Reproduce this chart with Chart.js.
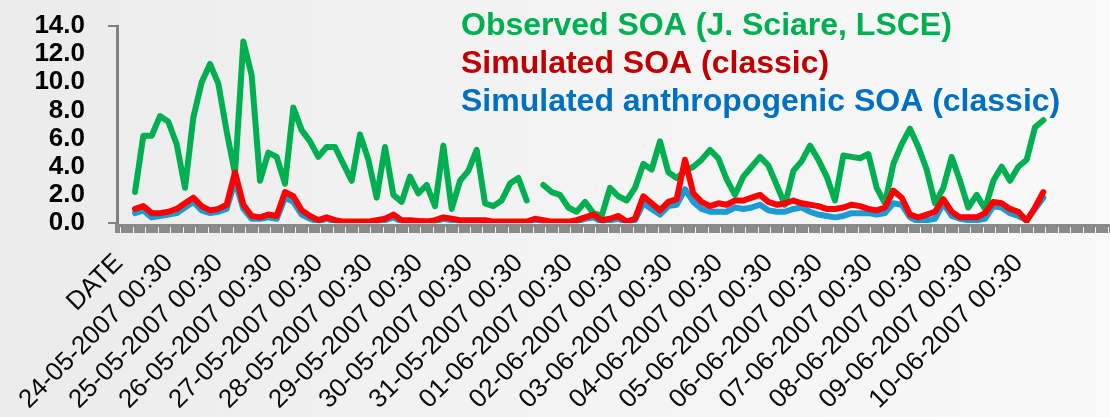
<!DOCTYPE html>
<html>
<head>
<meta charset="utf-8">
<script src="https://cdn.jsdelivr.net/npm/chart.js@4.4.1/dist/chart.umd.min.js"></script>
<style>
  html, body { margin: 0; padding: 0; }
  body {
    width: 1110px; height: 417px; overflow: hidden;
    background: linear-gradient(90deg, #ebebeb 0%, #f2f2f2 40%, #f6f6f6 75%, #f9f9f9 100%);
  }
  canvas { display: block; }
</style>
</head>
<body>
<canvas id="soaChart" width="1110" height="417"></canvas>
<script>
// x axis labels, one per day (DATE = 0, 24-05 = 1, ...)
const tickLabels = ['DATE', '24-05-2007 00:30', '25-05-2007 00:30', '26-05-2007 00:30', '27-05-2007 00:30',
    '28-05-2007 00:30', '29-05-2007 00:30', '30-05-2007 00:30', '31-05-2007 00:30', '01-06-2007 00:30',
    '02-06-2007 00:30', '03-06-2007 00:30', '04-06-2007 00:30', '05-06-2007 00:30', '06-06-2007 00:30',
    '07-06-2007 00:30', '08-06-2007 00:30', '09-06-2007 00:30', '10-06-2007 00:30'];

// series sampled every 4 hours, starting 0.3 day after the DATE tick
const startDay = 0.3;
const stepDay = 1 / 6;

const observed = [2.2, 6.2, 6.2, 7.6, 7.2, 5.6, 2.5, 7.5, 10.0, 11.3,
    9.9, 6.5, 3.5, 12.9, 10.5, 3.0, 5.0, 4.7, 2.8, 8.2,
    6.6, 5.8, 4.7, 5.4, 5.4, 4.2, 3.0, 6.3, 4.5, 1.8,
    5.4, 2.0, 1.5, 3.3, 2.1, 2.7, 1.2, 5.5, 1.0, 3.0,
    3.7, 5.2, 1.4, 1.2, 1.6, 2.8, 3.2, 1.6, null, 2.7,
    2.2, 2.0, 1.1, 0.8, 1.5, 0.7, 0.5, 2.5, 1.9, 1.6,
    2.5, 4.2, 3.8, 5.8, 3.6, 3.2, 3.7, 4.0, 4.5, 5.2,
    4.6, 3.1, 2.0, 3.3, 4.0, 4.7, 4.1, 2.7, 1.3, 3.7,
    4.4, 5.5, 4.5, 3.3, 1.6, 4.8, 4.7, 4.6, 4.9, 2.5,
    1.4, 4.2, 5.6, 6.7, 5.4, 3.8, 1.4, 2.5, 4.7, 3.0,
    1.1, 2.0, 1.0, 3.0, 4.0, 3.0, 4.0, 4.5, 6.8, 7.3];

const simulated = [1.0, 1.2, 0.7, 0.7, 0.8, 1.0, 1.4, 1.8, 1.2, 0.9,
    1.0, 1.3, 3.6, 1.3, 0.5, 0.4, 0.6, 0.5, 2.2, 1.9,
    0.9, 0.5, 0.2, 0.4, 0.2, 0.1, 0.1, 0.1, 0.1, 0.2,
    0.3, 0.6, 0.2, 0.2, 0.15, 0.1, 0.2, 0.4, 0.3, 0.2,
    0.2, 0.2, 0.2, 0.1, 0.1, 0.1, 0.1, 0.1, 0.3, 0.2,
    0.1, 0.1, 0.1, 0.2, 0.4, 0.6, 0.2, 0.3, 0.5, 0.1,
    0.3, 1.9, 1.4, 0.9, 1.5, 1.7, 4.5, 2.1, 1.5, 1.2,
    1.4, 1.3, 1.6, 1.6, 1.8, 2.0, 1.5, 1.3, 1.4, 1.6,
    1.4, 1.3, 1.2, 1.0, 1.0, 1.1, 1.3, 1.2, 1.0, 0.9,
    1.1, 2.3, 1.8, 0.6, 0.4, 0.6, 0.8, 1.7, 0.8, 0.4,
    0.4, 0.4, 0.7, 1.5, 1.4, 1.0, 0.8, 0.15, 1.1, 2.2];

const anthropogenic = [0.7, 0.9, 0.4, 0.5, 0.6, 0.7, 1.1, 1.5, 0.9, 0.7,
    0.8, 1.0, 3.0, 1.0, 0.3, 0.3, 0.4, 0.3, 1.8, 1.5,
    0.6, 0.3, 0.1, 0.3, 0.1, 0.05, 0.05, 0.05, 0.05, 0.1,
    0.2, 0.4, 0.1, 0.1, 0.1, 0.1, 0.1, 0.3, 0.2, 0.1,
    0.1, 0.1, 0.1, 0.05, 0.05, 0.05, 0.05, 0.05, 0.2, 0.1,
    0.05, 0.05, 0.05, 0.1, 0.3, 0.4, 0.1, 0.2, 0.3, 0.05,
    0.2, 1.4, 1.0, 0.6, 1.2, 1.3, 2.4, 1.5, 1.0, 0.8,
    0.8, 0.8, 1.1, 1.0, 1.1, 1.3, 0.9, 0.8, 0.8, 1.0,
    1.1, 0.8, 0.6, 0.5, 0.4, 0.5, 0.7, 0.7, 0.7, 0.6,
    0.7, 1.4, 1.3, 0.4, 0.1, 0.2, 0.3, 1.4, 0.5, 0.3,
    0.2, 0.2, 0.3, 1.2, 1.1, 0.7, 0.5, 0.2, 1.0, 1.8];

const yTicks = [0, 2, 4, 6, 8, 10, 12, 14];

const FONT = '"Liberation Sans", Arial, sans-serif';

function toPoints(values) {
    return values.map((v, i) => ({ x: startDay + i * stepDay, y: v }));
}

// legend drawn as coloured text lines over the plot, like the slide
const textLegend = {
    id: 'textLegend',
    afterDraw(chart) {
        const ctx = chart.ctx;
        const order = [2, 0, 1];
        ctx.save();
        ctx.font = 'bold 32px ' + FONT;
        ctx.textAlign = 'left';
        ctx.textBaseline = 'alphabetic';
        order.forEach((di, row) => {
            const ds = chart.data.datasets[di];
            ctx.fillStyle = ds.legendColor;
            ctx.fillText(ds.label, 461, 35 + row * 38);
        });
        ctx.restore();
    }
};

// thick grey x axis with small white tick marks
const axisBand = {
    id: 'axisBand',
    beforeDatasetsDraw(chart) {
        const { ctx, chartArea } = chart;
        const xs = chart.scales.x;
        const y0 = chartArea.bottom + 1;
        ctx.save();
        ctx.fillStyle = '#8a8a8a';
        ctx.fillRect(chartArea.left - 2, y0, chartArea.right - chartArea.left + 2, 9);
        ctx.fillStyle = '#f4f4f4';
        for (let v = 0; v <= xs.max; v += 0.25) {
            const px = Math.round(xs.getPixelForValue(v));
            ctx.fillRect(px, y0 + 3, 1, 6);
        }
        ctx.restore();
    }
};

const lineStyle = { pointRadius: 0, borderWidth: 6, tension: 0, spanGaps: false,
    borderJoinStyle: 'round', borderCapStyle: 'round' };

new Chart(document.getElementById('soaChart'), {
    type: 'line',
    data: {
        datasets: [
            { label: 'Simulated SOA (classic)', data: toPoints(simulated),
              borderColor: '#ff0000', legendColor: '#c00000', order: 1, ...lineStyle },
            { label: 'Simulated anthropogenic SOA (classic)', data: toPoints(anthropogenic),
              borderColor: '#1b9ad4', legendColor: '#0070c0', order: 2, ...lineStyle },
            { label: 'Observed SOA (J. Sciare, LSCE)', data: toPoints(observed),
              borderColor: '#00b050', legendColor: '#00b050', order: 3, ...lineStyle }
        ]
    },
    options: {
        responsive: false,
        animation: false,
        layout: { padding: { top: 26, right: 0, bottom: 0, left: 0 } },
        plugins: { legend: { display: false }, tooltip: { enabled: false } },
        scales: {
            x: {
                type: 'linear',
                min: -0.06,
                max: 19.8,
                afterBuildTicks: s => { s.ticks = tickLabels.map((_, i) => ({ value: i })); },
                afterFit: s => { s.height = 194; s.paddingLeft = 0; s.paddingRight = 0; },
                grid: { display: false },
                border: { display: false },
                ticks: {
                    autoSkip: false,
                    minRotation: 45,
                    maxRotation: 45,
                    padding: 17,
                    labelOffset: -1,
                    color: '#0a0a0a',
                    font: { family: FONT, size: 26 },
                    callback: (v, i) => tickLabels[i]
                }
            },
            y: {
                min: 0,
                max: 14,
                afterBuildTicks: s => { s.ticks = yTicks.map(v => ({ value: v })); },
                afterFit: s => { s.width = 117; s.paddingTop = 0; s.paddingBottom = 0; },
                border: { color: '#808080', width: 3 },
                grid: {
                    drawOnChartArea: false,
                    tickLength: 9,
                    lineWidth: 2,
                    color: c => (c.tick && (c.tick.value === 14 || c.tick.value === 0)) ? '#808080' : 'rgba(0,0,0,0)'
                },
                ticks: {
                    autoSkip: false,
                    padding: 23,
                    color: '#000',
                    font: { family: FONT, size: 26, weight: 'bold' },
                    callback: v => v.toFixed(1)
                }
            }
        }
    },
    plugins: [axisBand, textLegend]
});
</script>
</body>
</html>
